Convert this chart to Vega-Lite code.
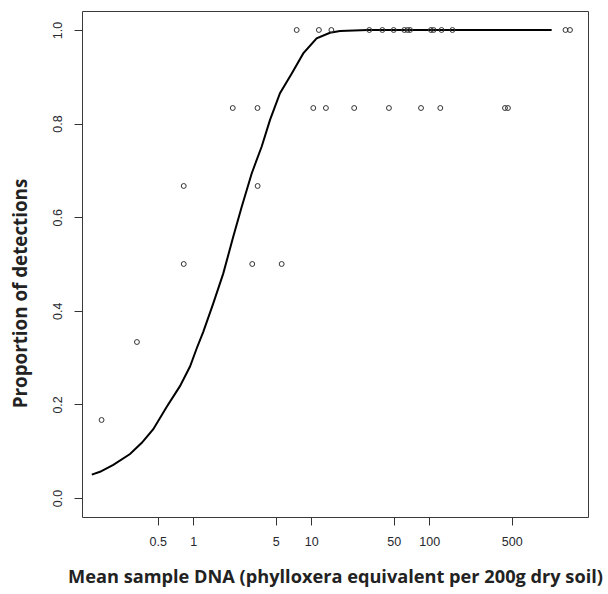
{
  "$schema": "https://vega.github.io/schema/vega-lite/v6.json",
  "autosize": "none",
  "width": 506,
  "height": 506,
  "padding": {"left": 82, "top": 11, "right": 20, "bottom": 77},
  "background": "white",
  "config": {
    "view": {"stroke": "#3a3a3a", "strokeWidth": 1},
    "axis": {
      "grid": false,
      "domain": false,
      "tickColor": "#333333",
      "tickSize": 8,
      "tickWidth": 1,
      "labelFont": "Liberation Sans",
      "labelFontSize": 12.5,
      "labelColor": "#26282e",
      "titleFont": "Open Sans",
      "titleFontWeight": "bold",
      "titleColor": "#222222"
    }
  },
  "datasets": {
    "obs": [
      {"dna": 0.167, "prop": 0.1667},
      {"dna": 0.333, "prop": 0.3333},
      {"dna": 0.83, "prop": 0.5},
      {"dna": 3.16, "prop": 0.5},
      {"dna": 5.61, "prop": 0.5},
      {"dna": 0.83, "prop": 0.6667},
      {"dna": 3.51, "prop": 0.6667},
      {"dna": 2.16, "prop": 0.8333},
      {"dna": 3.5, "prop": 0.8333},
      {"dna": 10.4, "prop": 0.8333},
      {"dna": 13.3, "prop": 0.8333},
      {"dna": 23.1, "prop": 0.8333},
      {"dna": 45.5, "prop": 0.8333},
      {"dna": 85.1, "prop": 0.8333},
      {"dna": 124, "prop": 0.8333},
      {"dna": 438, "prop": 0.8333},
      {"dna": 464, "prop": 0.8333},
      {"dna": 7.52, "prop": 1},
      {"dna": 11.6, "prop": 1},
      {"dna": 14.8, "prop": 1},
      {"dna": 31.0, "prop": 1},
      {"dna": 40.0, "prop": 1},
      {"dna": 49.9, "prop": 1},
      {"dna": 61.4, "prop": 1},
      {"dna": 65.3, "prop": 1},
      {"dna": 68.6, "prop": 1},
      {"dna": 103.3, "prop": 1},
      {"dna": 108.6, "prop": 1},
      {"dna": 127, "prop": 1},
      {"dna": 157, "prop": 1},
      {"dna": 1426, "prop": 1},
      {"dna": 1557, "prop": 1}
    ],
    "fit": [
      {"dna": 0.138, "p": 0.05},
      {"dna": 0.162, "p": 0.056},
      {"dna": 0.21, "p": 0.071},
      {"dna": 0.291, "p": 0.094},
      {"dna": 0.366, "p": 0.118},
      {"dna": 0.458, "p": 0.147},
      {"dna": 0.596, "p": 0.195},
      {"dna": 0.771, "p": 0.239},
      {"dna": 0.938, "p": 0.281},
      {"dna": 1.07, "p": 0.32},
      {"dna": 1.215, "p": 0.355},
      {"dna": 1.477, "p": 0.416},
      {"dna": 1.796, "p": 0.48},
      {"dna": 2.18, "p": 0.558},
      {"dna": 2.57, "p": 0.622},
      {"dna": 3.13, "p": 0.694},
      {"dna": 3.8, "p": 0.751},
      {"dna": 4.47, "p": 0.808},
      {"dna": 5.43, "p": 0.865},
      {"dna": 6.83, "p": 0.907},
      {"dna": 8.55, "p": 0.95},
      {"dna": 11.1, "p": 0.982},
      {"dna": 14.4, "p": 0.994},
      {"dna": 17.5, "p": 0.998},
      {"dna": 30, "p": 1.0},
      {"dna": 1089, "p": 1.0}
    ]
  },
  "layer": [
    {
      "data": {"name": "fit"},
      "mark": {"type": "line", "color": "#000000", "strokeWidth": 2, "interpolate": "linear"},
      "encoding": {
        "x": {
          "field": "dna", "type": "quantitative",
          "scale": {"type": "log", "domain": [0.114, 2213], "nice": false},
          "axis": {
            "values": [0.5, 1, 5, 10, 50, 100, 500],
            "format": "~g",
            "labelPadding": 10,
            "title": "Mean sample DNA (phylloxera equivalent per 200g dry soil)",
            "titleFontSize": 18.2,
            "titlePadding": 21
          }
        },
        "y": {
          "field": "p", "type": "quantitative",
          "scale": {"domain": [-0.0406, 1.0406], "nice": false, "zero": false},
          "axis": {
            "values": [0, 0.2, 0.4, 0.6, 0.8, 1.0],
            "format": ".1f",
            "labelAngle": -90,
            "labelAlign": "center",
            "labelBaseline": "bottom",
            "labelPadding": 10,
            "title": "Proportion of detections",
            "titleFontSize": 18.8,
            "titleAngle": -90,
            "titleAlign": "center",
            "titleBaseline": "middle",
            "titleX": -62,
            "titleY": 282
          }
        }
      }
    },
    {
      "data": {"name": "obs"},
      "mark": {"type": "point", "shape": "circle", "filled": false, "size": 24, "stroke": "#333333", "strokeWidth": 1, "opacity": 1},
      "encoding": {
        "x": {"field": "dna", "type": "quantitative"},
        "y": {"field": "prop", "type": "quantitative"}
      }
    }
  ]
}
